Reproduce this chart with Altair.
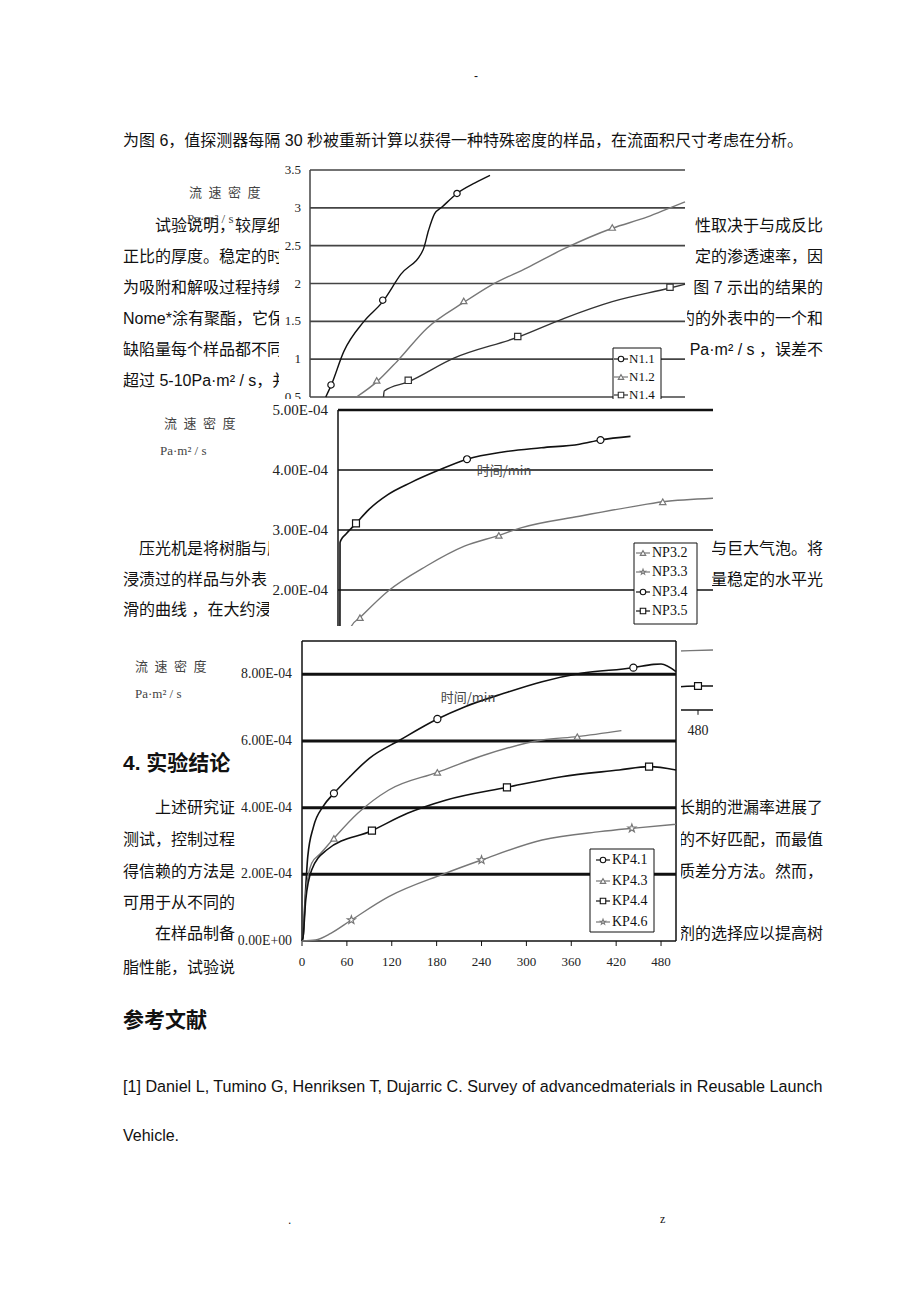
import altair as alt
import pandas as pd

# ======================= DATA =======================
# ---- chart 1 : N1.x (time / min, flow density) ----
c1_ticks = [0.5, 1.0, 1.5, 2.0, 2.5, 3.0, 3.5]
c1_tick_labels = ["0.5", "1", "1.5", "2", "2.5", "3", "3.5"]
n11_t = [21, 28, 45, 72, 97, 121, 151, 158, 166, 176, 196, 220, 240]
n11_v = [0.50, 0.65, 1.10, 1.50, 1.76, 2.12, 2.45, 2.70, 2.92, 3.01, 3.19, 3.33, 3.43]
n11_mt = [28, 97, 196]
n11_mv = [0.66, 1.78, 3.19]
n12_t = [62, 89, 116, 156, 205, 240, 290, 339, 403, 450, 480, 500]
n12_v = [0.50, 0.70, 0.97, 1.41, 1.75, 1.97, 2.21, 2.46, 2.73, 2.88, 3.00, 3.08]
n12_mt = [89, 205, 403]
n12_mv = [0.72, 1.77, 2.74]
n14_t = [98, 99, 131, 191, 277, 339, 403, 480, 500]
n14_v = [0.50, 0.58, 0.70, 1.01, 1.29, 1.54, 1.76, 1.94, 1.99]
n14_mt = [131, 277, 480]
n14_mv = [0.72, 1.30, 1.95]

# ---- chart 2 : NP3.x (values in 1e-4 Pa·m²/s) ----
c2_ticks = [2, 3, 4, 5]
c2_tick_labels = ["2.00E-04", "3.00E-04", "4.00E-04", "5.00E-04"]
c2_xticks = [0, 60, 120, 180, 240, 300, 360, 420, 480]
np34_t = [2.5, 2.7, 4.3, 10.4, 24, 41, 66.5, 97, 133, 172, 220, 271, 322, 350, 390]
np34_v = [0.2, 2.79, 2.84, 2.93, 3.11, 3.34, 3.59, 3.79, 3.99, 4.18, 4.30, 4.37, 4.43, 4.50, 4.56]
np34_mt = [172, 350]
np34_mv = [4.18, 4.50]
np32_t = [14, 18, 29.3, 66.5, 118, 168.5, 214.5, 245, 322, 393, 433, 500]
np32_v = [1.25, 1.40, 1.54, 1.98, 2.40, 2.73, 2.91, 3.04, 3.23, 3.39, 3.47, 3.53]
np32_mt = [29.3, 214.5, 433]
np32_mv = [1.54, 2.91, 3.47]
np33_t = [445, 470, 500]
np33_v = [0.98, 0.99, 1.00]
np35_t = [445, 480, 500]
np35_v = [0.38, 0.40, 0.40]
np35_mt = [24, 480]
np35_mv = [3.11, 0.40]

# ---- chart 3 : KP4.x (values in 1e-4 Pa·m²/s) ----
c3_ticks = [0, 2, 4, 6, 8]
c3_tick_labels = ["0.00E+00", "2.00E-04", "4.00E-04", "6.00E-04", "8.00E-04"]
c3_xticks = [0, 60, 120, 180, 240, 300, 360, 420, 480]
kp41_t = [0, 1.5, 3.6, 7.7, 15.4, 28, 42.7, 64, 90, 131, 181, 218, 270, 321, 373, 443, 470, 480, 500]
kp41_v = [0, 0.13, 1.03, 2.53, 3.43, 4.03, 4.43, 4.93, 5.48, 6.03, 6.66, 7.03, 7.43, 7.78, 8.03, 8.20, 8.30, 8.31, 8.08]
kp41_mt = [42.7, 181, 443]
kp41_mv = [4.43, 6.66, 8.20]
kp43_t = [0, 1.5, 5, 12.9, 25, 42.7, 74.5, 116, 181, 244, 321, 368, 427]
kp43_v = [0, 0.13, 1.43, 2.33, 2.63, 3.08, 3.83, 4.53, 5.06, 5.58, 6.03, 6.13, 6.31]
kp43_mt = [42.7, 181, 368]
kp43_mv = [3.08, 5.06, 6.13]
kp44_t = [0, 1.5, 5, 12.9, 33, 93.5, 141, 193, 274, 347, 424, 464, 500]
kp44_v = [0, 0.13, 1.23, 2.13, 2.73, 3.31, 3.83, 4.23, 4.61, 4.93, 5.13, 5.23, 5.13]
kp44_mt = [93.5, 274, 464]
kp44_mv = [3.31, 4.61, 5.23]
kp46_t = [0, 18, 38.5, 66, 116, 188, 240, 321, 398, 441, 500]
kp46_v = [0, 0.03, 0.23, 0.63, 1.33, 2.00, 2.43, 3.03, 3.28, 3.38, 3.50]
kp46_mt = [66, 240, 441]
kp46_mv = [0.63, 2.43, 3.38]

# ---- page text ----
page_left = [
    ("为图 6，值探测器每隔 30 秒被重新计算以获得一种特殊密度的样品，在流面积尺寸考虑在分析。", 123, 141),
    ("试验说明，较厚纸是", 155, 226),
    ("正比的厚度。稳定的时间", 123, 257),
    ("为吸附和解吸过程持续进", 123, 288),
    ("Nome*涂有聚酯，它保有", 123, 319),
    ("缺陷量每个样品都不同", 123, 350),
    ("超过 5-10Pa·m² / s，并", 123, 381),
    ("压光机是将树脂与肜", 139, 549),
    ("浸渍过的样品与外表", 123, 580),
    ("滑的曲线 ，在大约浸", 123, 610),
    ("上述研究证", 155, 808),
    ("测试，控制过程", 123, 840),
    ("得信赖的方法是", 123, 872),
    ("可用于从不同的", 123, 903),
    ("在样品制备", 155, 934),
    ("脂性能，试验说", 123, 968),
    ("Vehicle.", 123, 1136),
]
reference_line = ("[1] Daniel L, Tumino G, Henriksen T, Dujarric C. Survey of advancedmaterials in Reusable Launch", 123, 1087)
page_right = [
    ("性取决于与成反比", 226),
    ("定的渗透速率，因", 257),
    ("图 7 示出的结果的", 288),
    ("约的外表中的一个和", 319),
    ("Pa·m² / s  ，误差不", 350),
    ("是与巨大气泡。将", 549),
    ("量稳定的水平光", 580),
    ("长期的泄漏率进展了", 808),
    ("约的不好匹配，而最值", 840),
    ("性质差分方法。然而，", 872),
    ("剂的选择应以提高树", 934),
]
headings = [("4.  实验结论", 123, 764), ("参考文献", 123, 1021)]
ylab_cn = "流\u2002速\u2002密\u2002度"
ylab_unit = "Pa·m² / s"
xlab_cn = "时间/min"

# ======================= HELPERS =======================
ONE = pd.DataFrame({"a": [0]})
CJK = "Noto Sans CJK SC"
PAGE_FONT = "Liberation Sans, Noto Sans CJK SC"
SERIF = "Liberation Serif"
STAR = ("M0,-1L0.236,-0.325L0.951,-0.309L0.382,0.124L0.588,0.809L0,0.4"
        "L-0.588,0.809L-0.382,0.124L-0.951,-0.309L-0.236,-0.325Z")
BLACK = "#111111"
GRAY = "#777777"

# panel tops (page y of each stacked strip)
P1, P2, P3 = 0, 399, 626
P_BOTTOM = 1302


def vtext(txt, x, y, oy, size=16, align="left", font=PAGE_FONT, color="#111111", weight="normal"):
    return alt.Chart(ONE).mark_text(text=txt, align=align, baseline="middle", font=font,
                                    fontSize=size, color=color, fontWeight=weight).encode(
        x=alt.value(x), y=alt.value(y - oy))


def vrect(x0, x1, y0, y1, oy, stroke=None, sw=1):
    kw = dict(fill="white")
    if stroke:
        kw.update(stroke=stroke, strokeWidth=sw)
    return alt.Chart(ONE).mark_rect(**kw).encode(
        x=alt.value(x0), x2=alt.value(x1), y=alt.value(y0 - oy), y2=alt.value(y1 - oy))


def XQ(field, X):
    return alt.X(f"{field}:Q", scale=X, axis=None)


def YQ(field, Y):
    return alt.Y(f"{field}:Q", scale=Y, axis=None)


def series(t, v, X, Y, color, width=1.4):
    df = pd.DataFrame({"t": t, "v": v})
    return alt.Chart(df).mark_line(color=color, strokeWidth=width, interpolate="monotone").encode(
        x=XQ("t", X), y=YQ("v", Y))


def markers(t, v, X, Y, color, shape, size=40):
    df = pd.DataFrame({"t": t, "v": v})
    return alt.Chart(df).mark_point(shape=shape, filled=True, fill="white", stroke=color,
                                    strokeWidth=1.2, size=size, opacity=1).encode(
        x=XQ("t", X), y=YQ("v", Y))


def legend(x0, x1, y0, y1, rows, ys, sym_x, text_x, oy, size=13):
    layers = [vrect(x0, x1, y0, y1, oy, stroke=BLACK, sw=1)]
    for (lab, shape, color), y in zip(rows, ys):
        layers.append(alt.Chart(ONE).mark_rule(color=color, strokeWidth=1.2).encode(
            x=alt.value(sym_x - 7), x2=alt.value(sym_x + 7), y=alt.value(y - oy)))
        layers.append(alt.Chart(ONE).mark_point(shape=shape, filled=True, fill="white", stroke=color,
                                                strokeWidth=1.1, size=30, opacity=1).encode(
            x=alt.value(sym_x), y=alt.value(y - oy)))
        layers.append(vtext(lab, text_x, y, oy, size=size, font=SERIF))
    return layers


def grid(ticks, t0, t1, X, Y, color, width):
    df = pd.DataFrame({"v": ticks, "t0": [t0] * len(ticks), "t1": [t1] * len(ticks)})
    return alt.Chart(df).mark_rule(color=color, strokeWidth=width).encode(
        y=YQ("v", Y), x=XQ("t0", X), x2="t1:Q")


def vaxis(t, v0, v1, X, Y, color, width):
    df = pd.DataFrame({"t": [t], "v0": [v0], "v1": [v1]})
    return alt.Chart(df).mark_rule(color=color, strokeWidth=width).encode(
        x=XQ("t", X), y=YQ("v0", Y), y2="v1:Q")


def ylabels(ticks, labels, t_at, X, Y, dx=-8, size=12):
    df = pd.DataFrame({"v": ticks, "lab": labels, "t": [t_at] * len(ticks)})
    return alt.Chart(df).mark_text(align="right", baseline="middle", font=SERIF, fontSize=size,
                                   color="#222222", dx=dx).encode(
        y=YQ("v", Y), x=XQ("t", X), text="lab:N")


def xticks(ticks, v0, tick_len, X, Y, dy_lab=21, size=13):
    df = pd.DataFrame({"t": ticks, "lab": [str(t) for t in ticks],
                       "v0": [v0] * len(ticks), "v1": [v0 - tick_len] * len(ticks)})
    tk = alt.Chart(df).mark_rule(color=BLACK, strokeWidth=1).encode(
        x=XQ("t", X), y=YQ("v0", Y), y2="v1:Q")
    labs = alt.Chart(df).mark_text(baseline="middle", font=SERIF, fontSize=size, color="#222222",
                                   dy=dy_lab).encode(x=XQ("t", X), y=YQ("v0", Y), text="lab:N")
    return [tk, labs]


def page_layers(y_lo, y_hi, oy):
    out = []
    for txt, x, y in page_left:
        if y_lo <= y < y_hi:
            out.append(vtext(txt, x, y, oy))
    for txt, y in page_right:
        if y_lo <= y < y_hi:
            out.append(vtext(txt, 823, y, oy, align="right"))
    for txt, x, y in headings:
        if y_lo <= y < y_hi:
            out.append(vtext(txt, x, y, oy, size=21, weight="bold"))
    txt, x, y = reference_line
    if y_lo <= y < y_hi:
        out.append(vtext(txt, x, y, oy, size=16.15))
    return out


# ======================= PANEL 1 : chart 1 =======================
X1 = alt.Scale(domain=[0, 500], range=[310, 685], nice=False, zero=False)
Y1 = alt.Scale(domain=[0.5, 3.5], range=[397 - P1, 170 - P1], nice=False, zero=False)
panel1 = alt.layer(
    vtext("-", 474, 76, P1, size=12),
    *page_layers(0, P2, P1),
    vrect(279, 687, 160, 400, P1),
    grid(c1_ticks, 0, 500, X1, Y1, "#444444", 1.7),
    vaxis(0, 0.5, 3.5, X1, Y1, "#444444", 1.5),
    ylabels(c1_ticks, c1_tick_labels, 0, X1, Y1, dx=-9, size=13),
    series(n11_t, n11_v, X1, Y1, BLACK),
    series(n12_t, n12_v, X1, Y1, GRAY),
    series(n14_t, n14_v, X1, Y1, "#333333"),
    markers(n11_mt, n11_mv, X1, Y1, BLACK, "circle"),
    markers(n12_mt, n12_mv, X1, Y1, GRAY, "triangle-up"),
    markers(n14_mt, n14_mv, X1, Y1, "#333333", "square"),
    vtext(ylab_cn, 189, 193, P1, size=13, font=CJK, color="#444444"),
    vtext(ylab_unit, 187, 219, P1, size=13, font=SERIF, color="#444444"),
    *legend(613, 661, 348, 400,
            [("N1.1", "circle", BLACK), ("N1.2", "triangle-up", GRAY), ("N1.4", "square", "#333333")],
            [359, 377, 395], 621, 629, P1, size=13),
).properties(width=920, height=P2 - P1)

# ======================= PANEL 2 : chart 2 =======================
X2 = alt.Scale(domain=[0, 500], range=[338, 713], nice=False, zero=False)
Y2 = alt.Scale(domain=[0, 5], range=[710 - P2, 410 - P2], nice=False, zero=False)
panel2 = alt.layer(
    *page_layers(P2, P3, P2),
    vrect(269, 712, 399, 713, P2),
    grid([2, 3, 4], 0, 500, X2, Y2, BLACK, 1.6),
    grid([5], 0, 500, X2, Y2, BLACK, 2.6),
    grid([0], 0, 500, X2, Y2, BLACK, 1.5),
    vaxis(0, 0, 5, X2, Y2, BLACK, 1.5),
    *xticks(c2_xticks, 0, 0.08, X2, Y2, size=14),
    ylabels(c2_ticks, c2_tick_labels, 0, X2, Y2, dx=-10, size=15),
    series(np34_t, np34_v, X2, Y2, BLACK, 1.6),
    series(np32_t, np32_v, X2, Y2, GRAY),
    series(np33_t, np33_v, X2, Y2, GRAY),
    series(np35_t, np35_v, X2, Y2, BLACK),
    markers(np34_mt, np34_mv, X2, Y2, BLACK, "circle", 48),
    markers(np32_mt, np32_mv, X2, Y2, GRAY, "triangle-up"),
    markers(np35_mt, np35_mv, X2, Y2, BLACK, "square", 48),
    vtext(xlab_cn, 504, 471, P2, size=13, font=CJK, color="#444444", align="center"),
    vtext(ylab_cn, 164, 424, P2, size=13, font=CJK, color="#444444"),
    vtext(ylab_unit, 160, 451, P2, size=13, font=SERIF, color="#444444"),
    *legend(634, 697, 543, 624,
            [("NP3.2", "triangle-up", GRAY), ("NP3.3", STAR, GRAY),
             ("NP3.4", "circle", BLACK), ("NP3.5", "square", BLACK)],
            [553, 572, 592, 611], 643, 652, P2, size=14),
).properties(width=920, height=P3 - P2)

# ======================= PANEL 3 : chart 3 =======================
X3 = alt.Scale(domain=[0, 500], range=[302, 676], nice=False, zero=False)
Y3 = alt.Scale(domain=[0, 9], range=[941 - P3, 641 - P3], nice=False, zero=False)
panel3 = alt.layer(
    *page_layers(P3, P_BOTTOM, P3),
    vtext(".", 288, 1220, P3, size=12),
    vtext("z", 660, 1219, P3, size=12, font=SERIF),
    vrect(237, 681, 626, 967, P3),
    grid([2, 4, 6, 8], 0, 500, X3, Y3, BLACK, 3),
    grid([0, 9], 0, 500, X3, Y3, BLACK, 1.5),
    vaxis(0, 0, 9, X3, Y3, BLACK, 1.5),
    vaxis(500, 0, 9, X3, Y3, BLACK, 1.5),
    *xticks(c3_xticks, 0, 0.15, X3, Y3, size=13),
    ylabels(c3_ticks, c3_tick_labels, 0, X3, Y3, dx=-10, size=13.8),
    series(kp41_t, kp41_v, X3, Y3, BLACK, 1.6),
    series(kp43_t, kp43_v, X3, Y3, GRAY),
    series(kp44_t, kp44_v, X3, Y3, BLACK, 1.6),
    series(kp46_t, kp46_v, X3, Y3, GRAY),
    markers(kp41_mt, kp41_mv, X3, Y3, BLACK, "circle", 50),
    markers(kp43_mt, kp43_mv, X3, Y3, GRAY, "triangle-up", 40),
    markers(kp44_mt, kp44_mv, X3, Y3, BLACK, "square", 50),
    markers(kp46_mt, kp46_mv, X3, Y3, GRAY, STAR, 70),
    vtext(xlab_cn, 468, 698, P3, size=13, font=CJK, color="#444444", align="center"),
    vtext(ylab_cn, 135, 667, P3, size=13, font=CJK, color="#444444"),
    vtext(ylab_unit, 135, 694, P3, size=13, font=SERIF, color="#444444"),
    *legend(590, 654, 849, 932,
            [("KP4.1", "circle", BLACK), ("KP4.3", "triangle-up", GRAY),
             ("KP4.4", "square", BLACK), ("KP4.6", STAR, GRAY)],
            [860, 881, 901, 922], 603, 612, P3, size=14),
).properties(width=920, height=P_BOTTOM - P3)

chart = alt.vconcat(panel1, panel2, panel3, spacing=0, bounds="flush").properties(
    padding=0, background="white"
).configure_view(strokeWidth=0)

chart.save("out.html", embed_options={"renderer": "svg", "actions": False})
